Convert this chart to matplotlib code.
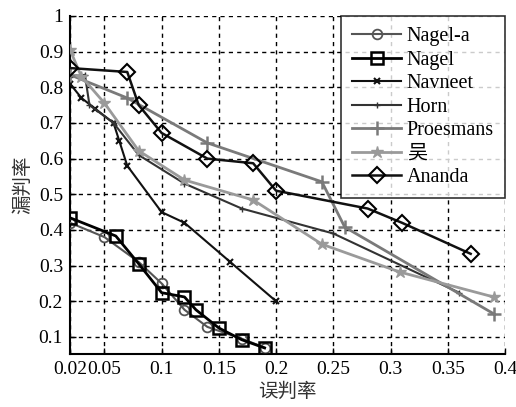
import matplotlib
matplotlib.use("Agg")
import matplotlib.pyplot as plt

plt.rcParams['font.family'] = ['Liberation Serif', 'Noto Sans CJK SC', 'DejaVu Sans']

# ---- data ----
nagel_a_x = [0.02, 0.05, 0.08, 0.10, 0.12, 0.14, 0.17, 0.19]
nagel_a_y = [0.42, 0.38, 0.31, 0.25, 0.176, 0.128, 0.095, 0.07]

nagel_x = [0.02, 0.06, 0.08, 0.10, 0.12, 0.13, 0.15, 0.17, 0.19]
nagel_y = [0.434, 0.383, 0.305, 0.224, 0.212, 0.176, 0.125, 0.092, 0.069]

navneet_x = [0.02, 0.03, 0.042, 0.058, 0.063, 0.07, 0.10, 0.12, 0.16, 0.20]
navneet_y = [0.81, 0.77, 0.74, 0.70, 0.65, 0.58, 0.45, 0.42, 0.31, 0.20]

horn_x = [0.02, 0.033, 0.037, 0.058, 0.08, 0.12, 0.17, 0.25, 0.36]
horn_y = [0.83, 0.835, 0.75, 0.70, 0.61, 0.53, 0.46, 0.39, 0.224]

proesmans_x = [0.02, 0.07, 0.14, 0.24, 0.26, 0.39]
proesmans_y = [0.835, 0.77, 0.644, 0.535, 0.408, 0.165]

wu_x = [0.02, 0.03, 0.05, 0.08, 0.12, 0.18, 0.24, 0.308, 0.39]
wu_y = [0.905, 0.83, 0.756, 0.622, 0.54, 0.484, 0.36, 0.282, 0.212]

ananda_x = [0.02, 0.07, 0.08, 0.10, 0.14, 0.18, 0.20, 0.28, 0.31, 0.37]
ananda_y = [0.854, 0.843, 0.75, 0.672, 0.60, 0.587, 0.51, 0.46, 0.42, 0.333]

labels = ['Nagel-a', 'Nagel', 'Navneet', 'Horn', 'Proesmans', '吴', 'Ananda']

xticks = [0.02, 0.05, 0.1, 0.15, 0.2, 0.25, 0.3, 0.35, 0.4]
xticklabels = ['0.02', '0.05', '0.1', '0.15', '0.2', '0.25', '0.3', '0.35', '0.4']
yticks = [0.1, 0.2, 0.3, 0.4, 0.5, 0.6, 0.7, 0.8, 0.9, 1.0]
yticklabels = ['0.1', '0.2', '0.3', '0.4', '0.5', '0.6', '0.7', '0.8', '0.9', '1']

fig = plt.figure(figsize=(5.16, 4.07), dpi=100)
ax = fig.add_axes([0.1357, 0.1302, 0.9787 - 0.1357, 0.9607 - 0.1302])

ax.plot(nagel_a_x, nagel_a_y, color='#555555', lw=1.5, marker='o', ms=7,
        mfc='none', mec='#555555', mew=1.3, label=labels[0], zorder=3)
ax.plot(nagel_x, nagel_y, color='black', lw=2.0, marker='s', ms=9,
        mfc='none', mec='black', mew=1.8, label=labels[1], zorder=4)
ax.plot(navneet_x, navneet_y, color='#111111', lw=1.5, marker='x', ms=4,
        mew=1.5, label=labels[2], zorder=3)
ax.plot(horn_x, horn_y, color='#333333', lw=1.5, marker='+', ms=5,
        mew=1.0, label=labels[3], zorder=3)
ax.plot(proesmans_x, proesmans_y, color='#7a7a7a', lw=2.0, marker='+', ms=10,
        mew=1.8, label=labels[4], zorder=3)
ax.plot(wu_x, wu_y, color='#9a9a9a', lw=2.0, marker='*', ms=9,
        mew=1.0, label=labels[5], zorder=3)
ax.plot(ananda_x, ananda_y, color='#111111', lw=1.8, marker='D', ms=8,
        mfc='none', mec='black', mew=1.5, label=labels[6], zorder=4)

ax.set_xlim(0.02, 0.4)
ax.set_ylim(0.052, 1.0)
ax.set_xticks(xticks)
ax.set_xticklabels(xticklabels)
ax.set_yticks(yticks)
ax.set_yticklabels(yticklabels)
ax.tick_params(direction='in', length=4, width=1, labelsize=14, pad=5)

ax.grid(True, color='black', linestyle=(0, (3, 3)), linewidth=1.0)
ax.set_axisbelow(True)
for s in ['top', 'right']:
    ax.spines[s].set_visible(False)
for s in ['left', 'bottom']:
    ax.spines[s].set_linewidth(1.5)

ax.set_xlabel('误判率', fontsize=14, labelpad=2,
              family=['Noto Sans CJK SC', 'DejaVu Sans'], color='#333333')
ax.set_ylabel('漏判率', fontsize=14, labelpad=4,
              family=['Noto Sans CJK SC', 'DejaVu Sans'], color='#333333')

leg = ax.legend(loc='upper right', bbox_to_anchor=(1.0, 1.0),
                frameon=True, fancybox=False, edgecolor='black',
                handlelength=2.4, handletextpad=0.3, labelspacing=0.22,
                borderpad=0.55, borderaxespad=0.0,
                prop={'family': ['Liberation Serif', 'Noto Sans CJK SC'], 'size': 14.5})
leg.get_frame().set_linewidth(1.2)

fig.savefig('out.png', dpi=100)
